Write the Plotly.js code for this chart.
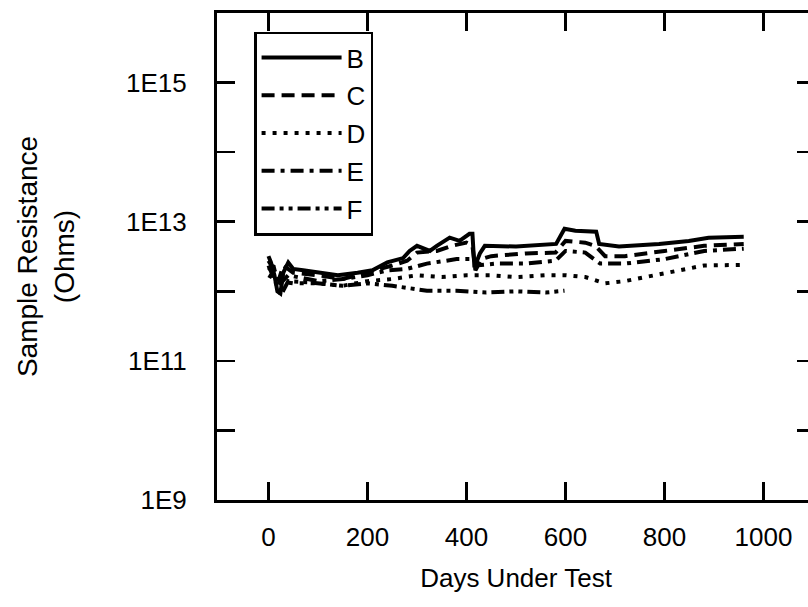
<!DOCTYPE html>
<html>
<head>
<meta charset="utf-8">
<script src="https://cdn.plot.ly/plotly-3.0.1.min.js"></script>
<style>
html, body { margin: 0; padding: 0; overflow: hidden; background: #fff; }
#chart { width: 830px; height: 607px; }
</style>
</head>
<body>
<div id="chart"></div>
<script>
// ---- data (days under test, resistance in ohms) ----
const seriesNames = ['B', 'C', 'D', 'E', 'F'];

const daysB = [0, 5, 12, 18, 24, 30, 40, 50, 70, 100, 140, 180, 210, 240, 272, 285, 300, 326, 340, 366, 386, 406, 412, 416, 427, 437, 500, 581, 598, 620, 662, 668, 708, 789, 849, 889, 960];
const ohmsB = [3.2e12, 2.6e12, 1.7e12, 1.0e12, 9.3e11, 1.85e12, 2.6e12, 2.1e12, 2.0e12, 1.85e12, 1.7e12, 1.85e12, 2.0e12, 2.6e12, 3.0e12, 3.8e12, 4.5e12, 3.8e12, 4.5e12, 5.9e12, 5.3e12, 6.7e12, 6.7e12, 2.2e12, 3.5e12, 4.5e12, 4.4e12, 4.8e12, 7.9e12, 7.4e12, 7.2e12, 4.8e12, 4.4e12, 4.8e12, 5.3e12, 5.9e12, 6.1e12];

const daysC = [0, 10, 20, 30, 50, 100, 150, 200, 250, 280, 300, 340, 370, 400, 412, 418, 430, 450, 520, 580, 600, 640, 660, 680, 720, 800, 880, 960];
const ohmsC = [2.75e12, 2.1e12, 1.4e12, 2.35e12, 1.85e12, 1.7e12, 1.5e12, 1.85e12, 2.35e12, 2.75e12, 3.6e12, 3.8e12, 4.5e12, 5.0e12, 4.5e12, 2.0e12, 2.9e12, 3.2e12, 3.5e12, 3.6e12, 5.3e12, 5.0e12, 4.5e12, 3.2e12, 3.2e12, 3.8e12, 4.5e12, 4.8e12];

const daysD = [0, 20, 50, 100, 150, 200, 250, 300, 350, 400, 450, 500, 560, 600, 640, 680, 720, 800, 880, 960];
const ohmsD = [1.7e12, 1.4e12, 1.3e12, 1.3e12, 1.2e12, 1.4e12, 1.5e12, 1.7e12, 1.6e12, 1.7e12, 1.7e12, 1.6e12, 1.7e12, 1.7e12, 1.6e12, 1.3e12, 1.4e12, 1.8e12, 2.35e12, 2.4e12];

const daysE = [0, 10, 20, 40, 100, 150, 200, 240, 280, 320, 380, 415, 420, 460, 520, 580, 600, 640, 670, 720, 800, 880, 960];
const ohmsE = [2.0e12, 2.35e12, 1.2e12, 1.7e12, 1.4e12, 1.5e12, 1.7e12, 2.0e12, 2.1e12, 2.5e12, 2.9e12, 2.9e12, 2.35e12, 2.5e12, 2.5e12, 2.75e12, 3.8e12, 3.6e12, 2.5e12, 2.5e12, 2.9e12, 3.8e12, 4.1e12];

const daysF = [0, 15, 25, 40, 80, 150, 200, 250, 280, 320, 380, 440, 500, 560, 598];
const ohmsF = [2.35e12, 1.3e12, 8.8e11, 1.4e12, 1.35e12, 1.2e12, 1.3e12, 1.2e12, 1.13e12, 1.02e12, 1.02e12, 9.6e11, 1.0e12, 9.6e11, 1.02e12];

const xTickVals = [0, 200, 400, 600, 800, 1000];
const xTickText = ['0', '200', '400', '600', '800', '1000'];
const yTickVals = [1e9, 1e10, 1e11, 1e12, 1e13, 1e14, 1e15, 1e16];
const yTickText = ['1E9', '', '1E11', '', '1E13', '', '1E15', ''];

// ---- styles ----
const dashes = ['solid', '13px,7px', '4px,7px', '13px,6px,4px,6px', '13px,5px,4px,5px,4px,5px'];
const xs = [daysB, daysC, daysD, daysE, daysF];
const ys = [ohmsB, ohmsC, ohmsD, ohmsE, ohmsF];

const traces = seriesNames.map((n, i) => ({
  type: 'scatter',
  mode: 'lines',
  name: n,
  x: xs[i],
  y: ys[i],
  legendgroup: n,
  line: { color: '#000', width: 4, dash: dashes[i], shape: 'linear' }
}));

const font = 'Liberation Sans, Arial, sans-serif';

const axisCommon = {
  showgrid: false,
  zeroline: false,
  showline: true,
  linecolor: '#000',
  linewidth: 3,
  mirror: 'allticks',
  ticks: 'inside',
  ticklen: 18,
  tickwidth: 2.5,
  tickcolor: '#000',
  tickfont: { family: font, size: 26, color: '#000' }
};

const layout = {
  width: 830,
  height: 607,
  margin: { l: 217, r: 15, t: 13, b: 107 },
  paper_bgcolor: '#fff',
  plot_bgcolor: '#fff',
  showlegend: true,
  legend: {
    x: 0.062, y: 0.962, xanchor: 'left', yanchor: 'top',
    bgcolor: '#fff', bordercolor: '#000', borderwidth: 2.5,
    font: { family: font, size: 26, color: '#000' },
    tracegroupgap: 1,
    itemwidth: 80
  },
  xaxis: Object.assign({}, axisCommon, {
    range: [-104, 1104],
    tickmode: 'array',
    tickvals: xTickVals,
    ticktext: xTickText,
    ticklabelstandoff: 12,
    title: { text: 'Days Under Test', font: { family: font, size: 26, color: '#000' }, standoff: 18 }
  }),
  yaxis: Object.assign({}, axisCommon, {
    type: 'log',
    range: [9, 16],
    tickmode: 'array',
    tickvals: yTickVals,
    ticktext: yTickText,
    ticklabelstandoff: 22,
    title: { text: 'Sample Resistance<br>(Ohms)', font: { family: font, size: 28, color: '#000' }, standoff: 44 }
  })
};

Plotly.newPlot('chart', traces, layout, { displayModeBar: false, staticPlot: true });
</script>
</body>
</html>
